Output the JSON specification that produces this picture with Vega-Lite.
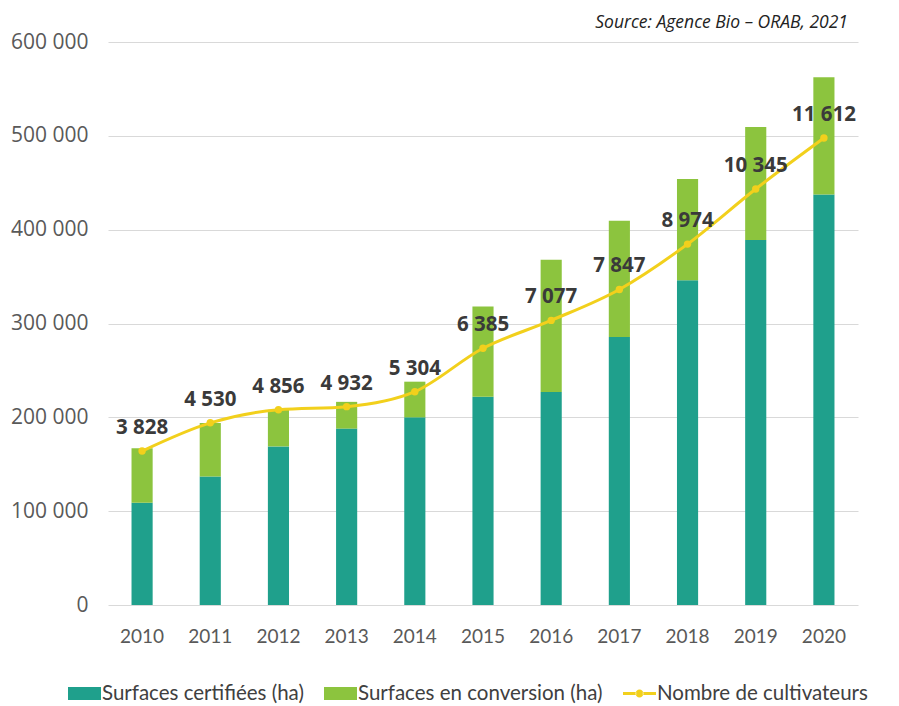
{
  "$schema": "https://vega.github.io/schema/vega-lite/v6.json",
  "width": 750,
  "height": 563,
  "autosize": {"type": "none"},
  "padding": {"left": 108, "top": 42, "right": 41, "bottom": 101},
  "background": "white",
  "config": {
    "view": {"stroke": null},
    "locale": {"number": {"decimal": ",", "thousands": " ", "grouping": [3], "currency": ["", " €"]}}
  },
  "title": {
    "text": "Source: Agence Bio – ORAB, 2021",
    "anchor": "end",
    "frame": "group",
    "orient": "top",
    "font": "Open Sans",
    "fontSize": 17.5,
    "fontStyle": "italic",
    "fontWeight": "normal",
    "color": "#222222",
    "offset": 0,
    "dx": -10
  },
  "datasets": {
    "surfaces": [
      {"annee": "2010", "type": "Surfaces certifiées (ha)", "ha": 109000},
      {"annee": "2010", "type": "Surfaces en conversion (ha)", "ha": 58000},
      {"annee": "2011", "type": "Surfaces certifiées (ha)", "ha": 137000},
      {"annee": "2011", "type": "Surfaces en conversion (ha)", "ha": 57000},
      {"annee": "2012", "type": "Surfaces certifiées (ha)", "ha": 169000},
      {"annee": "2012", "type": "Surfaces en conversion (ha)", "ha": 39000},
      {"annee": "2013", "type": "Surfaces certifiées (ha)", "ha": 188000},
      {"annee": "2013", "type": "Surfaces en conversion (ha)", "ha": 28500},
      {"annee": "2014", "type": "Surfaces certifiées (ha)", "ha": 200000},
      {"annee": "2014", "type": "Surfaces en conversion (ha)", "ha": 38000},
      {"annee": "2015", "type": "Surfaces certifiées (ha)", "ha": 222000},
      {"annee": "2015", "type": "Surfaces en conversion (ha)", "ha": 96000},
      {"annee": "2016", "type": "Surfaces certifiées (ha)", "ha": 227000},
      {"annee": "2016", "type": "Surfaces en conversion (ha)", "ha": 141000},
      {"annee": "2017", "type": "Surfaces certifiées (ha)", "ha": 285500},
      {"annee": "2017", "type": "Surfaces en conversion (ha)", "ha": 124000},
      {"annee": "2018", "type": "Surfaces certifiées (ha)", "ha": 346000},
      {"annee": "2018", "type": "Surfaces en conversion (ha)", "ha": 108000},
      {"annee": "2019", "type": "Surfaces certifiées (ha)", "ha": 389000},
      {"annee": "2019", "type": "Surfaces en conversion (ha)", "ha": 120500},
      {"annee": "2020", "type": "Surfaces certifiées (ha)", "ha": 437500},
      {"annee": "2020", "type": "Surfaces en conversion (ha)", "ha": 125000}
    ],
    "cultivateurs": [
      {"annee": "2010", "n": 3828},
      {"annee": "2011", "n": 4530},
      {"annee": "2012", "n": 4856},
      {"annee": "2013", "n": 4932},
      {"annee": "2014", "n": 5304},
      {"annee": "2015", "n": 6385},
      {"annee": "2016", "n": 7077},
      {"annee": "2017", "n": 7847},
      {"annee": "2018", "n": 8974},
      {"annee": "2019", "n": 10345},
      {"annee": "2020", "n": 11612}
    ]
  },
  "encoding": {
    "x": {
      "field": "annee",
      "type": "nominal",
      "scale": {"paddingInner": 0.69, "paddingOuter": 0.345},
      "axis": {
        "title": null,
        "labelAngle": 0,
        "domain": false,
        "ticks": false,
        "labelPadding": 22,
        "labelFont": "Lato",
        "labelFontSize": 19,
        "labelColor": "#595959"
      }
    }
  },
  "layer": [
    {
      "data": {"name": "surfaces"},
      "mark": {"type": "bar"},
      "encoding": {
        "y": {
          "field": "ha",
          "type": "quantitative",
          "stack": "zero",
          "scale": {"domain": [0, 600000], "nice": false},
          "axis": {
            "title": null,
            "values": [0, 100000, 200000, 300000, 400000, 500000, 600000],
            "format": ",d",
            "domain": false,
            "ticks": false,
            "grid": true,
            "gridColor": "#d9d9d9",
            "gridWidth": 1,
            "labelPadding": 20,
            "labelFont": "Open Sans",
            "labelFontSize": 21,
            "labelColor": "#595959"
          }
        },
        "order": {"field": "type", "sort": "ascending"},
        "color": {
          "field": "type",
          "type": "nominal",
          "scale": {
            "domain": ["Surfaces certifiées (ha)", "Surfaces en conversion (ha)", "Nombre de cultivateurs"],
            "range": ["#1FA08C", "#8CC43E", "#F2D01C"]
          },
          "legend": {
            "title": null,
            "orient": "none",
            "direction": "horizontal",
            "legendX": -40,
            "legendY": 635,
            "symbolSize": 1089,
            "symbolType": "M-1,-0.4H1V0.4H-1Z",
            "symbolStrokeWidth": 0,
            "labelFont": "Lato",
            "labelFontSize": 20.5,
            "labelColor": "#404040",
            "labelOffset": 1,
            "labelLimit": 400,
            "columnPadding": 20,
            "encode": {
              "symbols": {
                "update": {
                  "shape": {"signal": "datum.value === 'Nombre de cultivateurs' ? 'M-1,-0.09H-0.2V0.09H-1Z M0.2,-0.09H1V0.09H0.2Z M-0.24,0A0.24,0.24 0 1,0 0.24,0A0.24,0.24 0 1,0 -0.24,0Z' : 'M-1,-0.4H1V0.4H-1Z'"}
                }
              }
            }
          }
        }
      }
    },
    {
      "data": {"name": "cultivateurs"},
      "encoding": {
        "y": {
          "field": "n",
          "type": "quantitative",
          "scale": {"domain": [0, 14000], "nice": false},
          "axis": null
        }
      },
      "layer": [
        {
          "mark": {"type": "line", "strokeWidth": 3, "interpolate": "monotone", "point": {"filled": true, "size": 55}},
          "encoding": {
            "color": {"datum": "Nombre de cultivateurs"}
          }
        },
        {
          "mark": {
            "type": "text",
            "dy": -23,
            "font": "Open Sans",
            "fontSize": 20.5,
            "fontWeight": "bold",
            "color": "#3a3a3a"
          },
          "encoding": {
            "text": {"field": "n", "type": "quantitative", "format": ",d"}
          }
        }
      ]
    }
  ],
  "resolve": {"scale": {"y": "independent"}}
}
